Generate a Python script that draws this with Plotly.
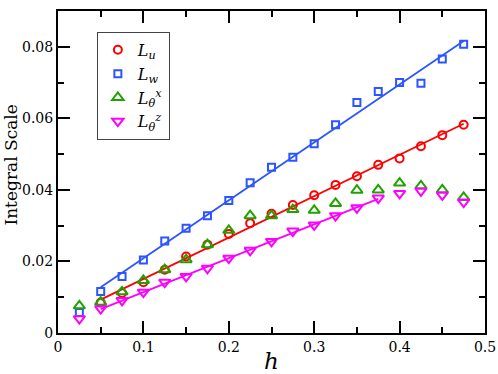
import numpy as np
import plotly.graph_objects as go

# data
h = [0.025, 0.05, 0.075, 0.1, 0.125, 0.15, 0.175, 0.2, 0.225, 0.25,
     0.275, 0.3, 0.325, 0.35, 0.375, 0.4, 0.425, 0.45, 0.475]
L_u = [None, 0.0085, 0.0112, 0.0142, 0.0177, 0.0214, 0.0247, 0.0277, 0.0307, 0.0333,
       0.0358, 0.0385, 0.0414, 0.0438, 0.0470, 0.0488, 0.0522, 0.0553, 0.0582]
L_w = [0.0057, 0.0116, 0.0158, 0.0204, 0.0257, 0.0293, 0.0328, 0.0370, 0.0420, 0.0463,
       0.0491, 0.0529, 0.0582, 0.0644, 0.0675, 0.0700, 0.0698, 0.0766, 0.0807]
L_tx = [0.0076, 0.0086, 0.0115, 0.0147, 0.0177, 0.0205, 0.0247, 0.0287, 0.0328, 0.0328,
        0.0345, 0.0343, 0.0362, 0.0399, 0.0400, 0.0419, 0.0411, 0.0400, 0.0379]
L_tz = [0.0040, 0.0068, 0.0091, 0.0114, 0.0142, 0.0158, 0.0181, 0.0209, 0.0231, 0.0256,
        0.0285, 0.0302, 0.0328, 0.0350, 0.0377, 0.0390, 0.0397, 0.0386, 0.0366]

x_ticks = [0, 0.1, 0.2, 0.3, 0.4, 0.5]
x_labels = ["0", "0.1", "0.2", "0.3", "0.4", "0.5"]
y_ticks = [0, 0.02, 0.04, 0.06, 0.08]
y_labels = ["0", "0.02", "0.04", "0.06", "0.08"]

SERIF = "DejaVu Serif"

series = [
    ("<i>L<sub>u</sub></i>", L_u, "#ff0000", "circle-open", 8, (0.05, 0.475)),
    ("<i>L<sub>w</sub></i>", L_w, "#2a55ff", "square-open", 7, (0.05, 0.475)),
    ("<i>L</i><sub><i>θ</i></sub><sup><i>x</i></sup>", L_tx, "#1fa300", "triangle-up-open", 10, None),
    ("<i>L</i><sub><i>θ</i></sub><sup><i>z</i></sup>", L_tz, "#ff00ff", "triangle-down-open", 10, (0.05, 0.375)),
]

fig = go.Figure()

# linear fits first so markers sit on top
for name, vals, col, sym, sz, rng in series:
    if rng is None:
        continue
    xs = [x for x, v in zip(h, vals) if v is not None and rng[0] <= x <= rng[1]]
    ys = [v for x, v in zip(h, vals) if v is not None and rng[0] <= x <= rng[1]]
    k, b = np.polyfit(xs, ys, 1)
    fx = np.array([xs[0], xs[-1]])
    fig.add_trace(go.Scatter(x=fx, y=k * fx + b, mode="lines",
                             line=dict(color=col, width=1.8),
                             showlegend=False, hoverinfo="skip"))

for name, vals, col, sym, sz, rng in series:
    fig.add_trace(go.Scatter(x=h, y=vals, mode="markers", name=name, legendgroup=name,
                             marker=dict(symbol=sym, size=sz, color=col,
                                         line=dict(color=col, width=2))))

axis_common = dict(showline=True, linecolor="black", linewidth=2, mirror="ticks",
                   ticks="inside", ticklen=12, tickwidth=2, tickcolor="black",
                   showgrid=False, zeroline=False, automargin=False,
                   tickfont=dict(family=SERIF, size=14, color="black"))

fig.update_xaxes(range=[0, 0.5], tickvals=x_ticks, ticktext=x_labels,
                 minor=dict(ticks="inside", ticklen=6, tickwidth=2, dtick=0.05,
                            tick0=0, tickcolor="black", showgrid=False),
                 title=dict(text="<i>h</i>", standoff=4,
                            font=dict(family=SERIF, size=23, color="black")),
                 **axis_common)
fig.update_yaxes(range=[0, 0.09], tickvals=y_ticks, ticktext=y_labels,
                 minor=dict(ticks="inside", ticklen=6, tickwidth=2, dtick=0.01,
                            tick0=0, tickcolor="black", showgrid=False),
                 **axis_common)

# y title as an annotation so it sits clear of the tick labels
fig.add_annotation(text="Integral Scale", textangle=-90, xref="paper", yref="paper",
                   x=0, y=0.52, xshift=-47, xanchor="center", yanchor="middle",
                   showarrow=False, font=dict(family=SERIF, size=17, color="black"))

fig.update_layout(
    width=498, height=374,
    margin=dict(l=58, r=13, t=11, b=41),
    paper_bgcolor="white", plot_bgcolor="white",
    font=dict(family=SERIF, color="black"),
    legend=dict(x=0.091, y=0.935, xanchor="left", yanchor="top",
                bordercolor="#444444", borderwidth=1, bgcolor="white",
                font=dict(family=SERIF, size=16, color="black"),
                itemwidth=30, tracegroupgap=0),
)

# drop the browser's default body margin so the figure fills the window
fig.write_html("out.html", config={"displayModeBar": False},
               post_script="document.body.style.margin='0';")
